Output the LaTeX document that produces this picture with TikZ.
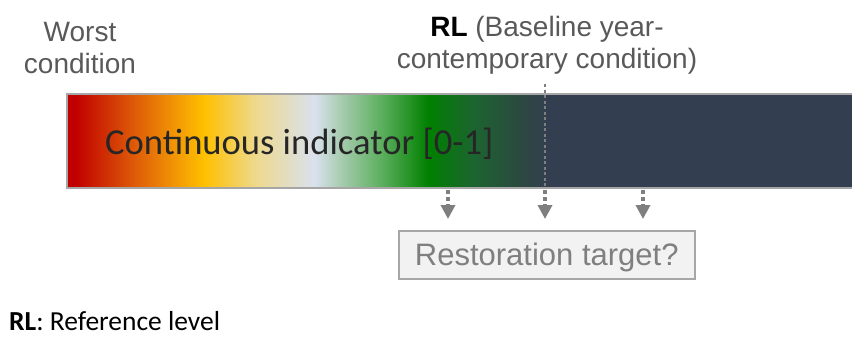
\documentclass[tikz,border=0pt]{standalone}
\usepackage{fontspec}
\setmainfont{Liberation Sans}
\newfontfamily\carlito{Carlito}
\usetikzlibrary{arrows.meta}
\definecolor{cRed}{HTML}{C00000}
\definecolor{cOrange}{HTML}{E06008}
\definecolor{cYellow}{HTML}{FFC000}
\definecolor{cPale}{HTML}{EED98C}
\definecolor{cWhite}{HTML}{D9E1EE}
\definecolor{cLGreen}{HTML}{A8CCB0}
\definecolor{cMGreen}{HTML}{5AAE5C}
\definecolor{cGreen}{HTML}{008000}
\definecolor{cDGreen}{HTML}{1C6430}
\definecolor{cSlate}{HTML}{2C4840}
\definecolor{cNavy}{HTML}{333F50}
\definecolor{cBorder}{HTML}{A6A6A6}
\definecolor{cArrow}{HTML}{7F7F7F}
\definecolor{cText}{HTML}{595959}
\definecolor{cDark}{HTML}{262626}
\definecolor{cBox}{HTML}{F2F2F2}
\pgfdeclarehorizontalshading{indicator}{100bp}{%
  color(0bp)=(cRed);
  color(25bp)=(cRed);
  color(25.84bp)=(cRed);
  color(32.4bp)=(cOrange);
  color(39.3bp)=(cYellow);
  color(44.7bp)=(cPale);
  color(50.9bp)=(cWhite);
  color(53.6bp)=(cLGreen);
  color(58.0bp)=(cMGreen);
  color(62.8bp)=(cGreen);
  color(67.5bp)=(cDGreen);
  color(72.5bp)=(cSlate);
  color(75bp)=(cNavy!90!cSlate);
  color(100bp)=(cNavy!90!cSlate)}
\tikzset{
  lbl/.style={inner sep=0pt, anchor=base, text=cText, font=\fontsize{28}{32}\selectfont},
  dotarrow/.style={draw=cArrow, line width=3.5pt, dash pattern=on 3.5pt off 3.5pt,
    -{Triangle[width=14pt,length=14pt]}},
  rlline/.style={draw=cArrow, line width=2.5pt, dash pattern=on 3pt off 2.5pt}
}
\begin{document}
\begin{tikzpicture}[x=1pt,y=-1pt]
\useasboundingbox (0,0) rectangle (852,338);
% bar
\shade[shading=indicator] (67,94) rectangle (545,188);
\fill[cNavy] (545,94) rectangle (853,188);
\draw[cBorder, line width=1.5pt] (853,94) -- (67,94) -- (67,188) -- (853,188);
\node (grad) [inner sep=0pt, minimum width=478pt, minimum height=94pt, anchor=north west] at (67,94) {};
\node (navy) [inner sep=0pt, minimum width=308pt, minimum height=94pt, anchor=north west] at (545,94) {};
\node (ind) [inner sep=0pt, anchor=base west, text=cDark, font=\carlito\fontsize{36.6}{40}\selectfont] at (105,154) {Continuous indicator [0-1]};
% top labels
\node (worst1) [lbl] at (80,41) {Worst};
\node (worst2) [lbl] at (80,73) {condition};
\node (rl1) [lbl] at (547,36) {\textcolor{black}{\textbf{RL}} (Baseline year-};
\node (rl2) [lbl] at (547,68) {contemporary condition)};
% RL line
\coordinate (rltop) at (545,84);
\coordinate (rlend) at (545,219);
\draw[rlline] (rltop) -- (navy.south west);
% arrows
\coordinate (a1s) at (448,190);
\coordinate (a1e) at (448,219);
\coordinate (a2s) at (545,190);
\coordinate (a3s) at (643,190);
\coordinate (a3e) at (643,219);
\draw[dotarrow] (a1s) -- (a1e);
\draw[dotarrow] (a2s) -- (rlend);
\draw[dotarrow] (a3s) -- (a3e);
% restoration box
\node (target) [draw=cBorder, fill=cBox, line width=1.5pt, minimum width=296pt, minimum height=48pt,
  inner sep=0pt, anchor=north west] at (398,230) {};
\node (ttext) [inner sep=0pt, anchor=base, text=cArrow, font=\fontsize{31}{34}\selectfont] at (target.center |- 0,265) {Restoration target?};
% footnote
\node (foot) [inner sep=0pt, text depth=0pt, anchor=base west, text=black, font=\carlito\fontsize{27.5}{30}\selectfont] at (9,330) {\textbf{RL}: Reference level};
\end{tikzpicture}
\end{document}
